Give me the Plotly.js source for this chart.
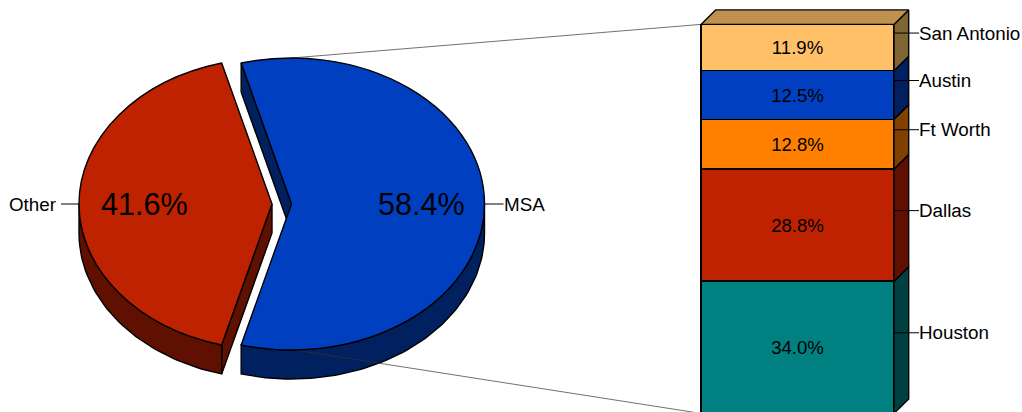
<!DOCTYPE html>
<html>
<head>
<meta charset="utf-8">
<script src="https://cdn.plot.ly/plotly-3.0.1.min.js"></script>
<style>html,body{margin:0;padding:0;background:#fff;overflow:hidden}#chart{width:1022px;height:412px}</style>
</head>
<body>
<div id="chart"></div>
<script>
// ---- data ----
var pieLabels = ['MSA', 'Other'];
var pieValues = [58.4, 41.6];
var barLabels = ['Houston', 'Dallas', 'Ft Worth', 'Austin', 'San Antonio'];
var barValues = [34.0, 28.8, 12.8, 12.5, 11.9];
// ---- styles ----
var pieColors = ['#0040C0', '#BE2200'];
var pieSideColors = ['#002060', '#601000'];
var barColors = ['#008080', '#BE2200', '#FF8000', '#0040C0', '#FFC068'];
var barSideColors = ['#004040', '#601000', '#804000', '#002060', '#806534'];
var barTopColor = '#C09050';
// ---- geometry ----
var W = 1022, H = 412;
var FONT = '"Liberation Sans", Arial, sans-serif';
var cx = 291.5, cy = 204, rx = 193, ry = 146, depth = 29, pullPx = 19.5;
var barL = 701, barR = 894, barZeroPx = 413.4, pxPerPct = 3.89, dx = 14.7, dy = 14.5;

var total = pieValues[0] + pieValues[1];
var blueSpan = pieValues[0] / total * 360;
var blueStart = 90 - blueSpan / 2, blueEnd = 90 + blueSpan / 2;
var redStart = blueEnd;
function px(t, ox) { return (ox || 0) + cx + rx * Math.sin(t * Math.PI / 180); }
function py(t, oy) { return (oy || 0) + cy - ry * Math.cos(t * Math.PI / 180); }
function arc(a, b, ox, oy) {
  var xs = [], ys = [], n = Math.max(2, Math.ceil(Math.abs(b - a) / 1.5));
  for (var i = 0; i <= n; i++) { var t = a + (b - a) * i / n; xs.push(px(t, ox)); ys.push(py(t, oy)); }
  return {x: xs, y: ys};
}
var LINE = {color: '#000', width: 1.4};
function face(xs, ys, color, yaxis) {
  return {type: 'scatter', mode: 'lines', x: xs, y: ys, fill: 'toself', fillcolor: color, line: LINE,
    yaxis: yaxis || 'y', hoverinfo: 'skip', showlegend: false};
}
function wall(a, b, ox, color) {
  var top = arc(a, b, ox, 0), bot = arc(b, a, ox, depth);
  return face(top.x.concat(bot.x, [top.x[0]]), top.y.concat(bot.y, [top.y[0]]), color);
}
function cut(t, ox, color) {
  var x0 = cx + ox, x1 = px(t, ox), y1 = py(t);
  return face([x0, x1, x1, x0, x0], [cy, y1, y1 + depth, cy + depth, cy], color);
}
function seg(xs, ys, yaxis, width, color) {
  return {type: 'scatter', mode: 'lines', x: xs, y: ys, yaxis: yaxis || 'y',
    line: {color: color || '#000', width: width || 1}, hoverinfo: 'skip', showlegend: false};
}
var traces = [];
// pie sides
traces.push(cut(redStart, -pullPx, pieSideColors[1]));
traces.push(wall(270, redStart, -pullPx, pieSideColors[1]));
traces.push(cut(blueStart, 0, pieSideColors[0]));
traces.push(wall(90, blueEnd, 0, pieSideColors[0]));
// connectors between pie and column
var pctTop = barValues.reduce(function (s, v) { return s + v; }, 0);
function vToPx(v) { return barZeroPx - v * pxPerPct; }
traces.push(seg([cx, barL], [cy - ry, vToPx(pctTop)], 'y', 0.7, '#333'));
traces.push(seg([cx + 3, barL], [cy + ry, vToPx(0)], 'y', 0.7, '#333'));
// pie tops
traces.push({type: 'pie', labels: pieLabels, values: pieValues, sort: false, direction: 'clockwise',
  rotation: blueStart, pull: [0, pullPx / rx], textinfo: 'none', hoverinfo: 'skip', showlegend: false,
  marker: {colors: pieColors, line: {color: '#000', width: 1.4}}, domain: {x: [0, 0.5], y: [0, 1]}});
// column
var annotations = [];
var dyV = dy / pxPerPct, base = 0;
var labelFont = {family: FONT, size: 18.8, color: '#000'};
barValues.forEach(function (v, i) {
  traces.push({type: 'bar', x: [(barL + barR) / 2], y: [v], width: [barR - barL], name: barLabels[i], yaxis: 'y2',
    marker: {color: barColors[i], line: {color: '#000', width: 1.6}},
    text: [v.toFixed(1) + '%'], textposition: 'inside', insidetextanchor: 'middle', textangle: 0,
    constraintext: 'none', textfont: {family: FONT, size: 18.6, color: '#000'}, hoverinfo: 'skip', showlegend: false});
  traces.push(face([barR, barR + dx, barR + dx, barR, barR],
    [base, base + dyV, base + v + dyV, base + v, base], barSideColors[i], 'y2'));
  var mid = base + v / 2 + dyV;
  traces.push(seg([barR, 919], [mid, mid], 'y2', 1));
  annotations.push({x: 917, y: mid, xref: 'x', yref: 'y2', text: barLabels[i], showarrow: false,
    xanchor: 'left', yanchor: 'middle', font: labelFont});
  base += v;
});
traces.push(face([barL, barL + dx, barR + dx, barR, barL],
  [base, base + dyV, base + dyV, base, base], barTopColor, 'y2'));
// pie labels
traces.push(seg([cx - pullPx - rx - 18, cx - pullPx - rx], [cy, cy]));
traces.push(seg([cx + rx, cx + rx + 19], [cy, cy]));
annotations.push({x: 58, y: cy, xref: 'x', yref: 'y', text: pieLabels[1], showarrow: false, xanchor: 'right',
  font: labelFont});
annotations.push({x: 502, y: cy, xref: 'x', yref: 'y', text: pieLabels[0], showarrow: false, xanchor: 'left',
  font: labelFont});
annotations.push({x: 144, y: cy, xref: 'x', yref: 'y', text: pieValues[1].toFixed(1) + '%', showarrow: false,
  font: {family: FONT, size: 30.6, color: '#000'}});
annotations.push({x: 421, y: cy, xref: 'x', yref: 'y', text: pieValues[0].toFixed(1) + '%', showarrow: false,
  font: {family: FONT, size: 30.6, color: '#000'}});

var layout = {
  width: W, height: H, margin: {l: 0, r: 0, t: 0, b: 0}, paper_bgcolor: '#fff', plot_bgcolor: '#fff',
  barmode: 'stack', showlegend: false, hovermode: false, annotations: annotations,
  xaxis: {range: [0, W], visible: false, fixedrange: true},
  yaxis: {range: [H, 0], visible: false, fixedrange: true},
  yaxis2: {range: [(barZeroPx - H) / pxPerPct, barZeroPx / pxPerPct], overlaying: 'y', visible: false, fixedrange: true}
};
var gd = document.getElementById('chart');
Plotly.newPlot(gd, traces, layout, {displayModeBar: false, responsive: false}).then(function () {
  var pieCd = gd.calcdata.filter(function (c) { return c[0].trace && c[0].trace.type === 'pie'; })[0][0];
  var sx = rx / pieCd.r, sy = ry / pieCd.r;
  document.querySelectorAll('.pielayer .trace').forEach(function (g) {
    g.setAttribute('transform', 'translate(' + cx + ',' + cy + ') scale(' + sx + ',' + sy + ') translate(' + (-pieCd.cx) + ',' + (-pieCd.cy) + ')');
    g.querySelectorAll('path').forEach(function (p) { p.style.vectorEffect = 'non-scaling-stroke'; });
  });
});
</script>
</body>
</html>
